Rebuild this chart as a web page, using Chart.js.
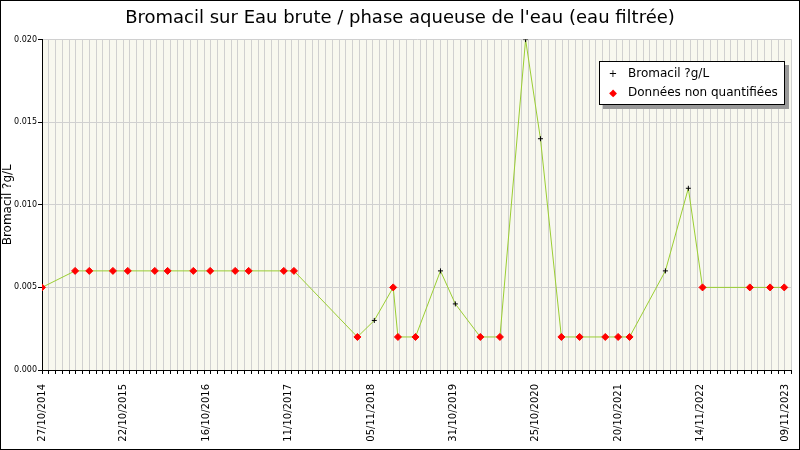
<!DOCTYPE html>
<html><head><meta charset="utf-8">
<script src="https://cdn.jsdelivr.net/npm/chart.js@4"></script>
<style>
body{margin:0;background:#fff;font-family:"DejaVu Sans",sans-serif}
#wrap{position:relative;width:800px;height:450px;box-sizing:border-box;border:1px solid #000}
#leg{position:absolute;left:598px;top:60px;width:186px;height:44px;border:1px solid #000;background:#fff;box-shadow:4px 4px 0 #999;font-size:12px;line-height:19px;padding:2px 0 0 6px;box-sizing:border-box;white-space:nowrap}
#leg span.m{display:inline-block;width:14px;text-align:center;margin-right:8px;font-size:10px}
</style></head><body>
<div id="wrap"><canvas id="c" width="798" height="448"></canvas>
<div id="leg"><div><span class="m" style="color:#000">+</span>Bromacil ?g/L</div><div><span class="m" style="color:#f00">◆</span>Données non quantifiées</div></div></div>
<script>
const title = "Bromacil sur Eau brute / phase aqueuse de l'eau (eau filtrée)";
const yTitle = "Bromacil ?g/L";
// x in months since 27/10/2014
const xMonths = [0,4.9,7.0,10.5,12.7,16.7,18.6,22.4,24.9,28.6,30.6,35.8,37.3,46.7,49.2,52.0,52.7,55.3,59.0,61.2,64.9,67.8,71.6,73.8,76.9,79.6,83.4,85.3,87.0,92.3,95.7,97.8,104.8,107.8,109.9];
const values = [0.005,0.006,0.006,0.006,0.006,0.006,0.006,0.006,0.006,0.006,0.006,0.006,0.006,0.002,0.003,0.005,0.002,0.002,0.006,0.004,0.002,0.002,0.020,0.014,0.002,0.002,0.002,0.002,0.002,0.006,0.011,0.005,0.005,0.005,0.005];
const quantified = [0,0,0,0,0,0,0,0,0,0,0,0,0,0,1,0,0,0,1,1,0,0,1,1,0,0,0,0,0,1,1,0,0,0,0];
const tickLabels = ["27/10/2014","22/10/2015","16/10/2016","11/10/2017","05/11/2018","31/10/2019","25/10/2020","20/10/2021","14/11/2022","09/11/2023"];
const tickPos = [0,12.1,24.3,36.5,48.7,60.9,73.1,85.3,97.5,110];

const bg = {id:'bg',beforeDraw(c){const a=c.chartArea,x=c.ctx;x.save();x.fillStyle='#f8f8ef';x.fillRect(a.left,a.top,a.right-a.left,a.bottom-a.top);x.restore();}};
new Chart(document.getElementById('c'),{
 type:'line',
 data:{datasets:[{data:xMonths.map((m,i)=>({x:m,y:values[i]})),borderColor:'#9acd32',borderWidth:1,tension:0,
   pointStyle:quantified.map(q=>q?'cross':'rectRot'),
   pointRadius:quantified.map(q=>q?2.5:3.5),
   pointBorderColor:quantified.map(q=>q?'#000':'#f00'),
   pointBackgroundColor:quantified.map(q=>q?'#000':'#f00'),
   pointBorderWidth:1}]},
 options:{responsive:false,animation:false,
  layout:{padding:{right:0,top:0,left:0,bottom:0}},
  plugins:{legend:{display:false},tooltip:{enabled:false},
   title:{display:true,text:title,color:'#000',font:{family:'DejaVu Sans',size:18,weight:'normal'},padding:{top:7,bottom:10}}},
  scales:{
   x:{type:'linear',min:0,max:111,
     afterBuildTicks(s){s.ticks=[];for(let i=0;i<=111;i++)s.ticks.push({value:i});},
     afterFit(s){s.height=4;},
     grid:{color:'#d0d0d0',drawTicks:true,tickLength:4,tickColor:'#000'},
     border:{color:'#000'},
     ticks:{display:false}},
   x2:{type:'linear',position:'bottom',min:0,max:111,
     afterBuildTicks(s){s.ticks=tickPos.map(v=>({value:v}));},
     afterFit(s){s.height=75;},
     grid:{display:false},border:{display:false},
     ticks:{autoSkip:false,maxRotation:90,minRotation:90,color:'#000',font:{family:'DejaVu Sans',size:10},padding:2,
       callback:(v,i)=>tickLabels[i]}},
   y:{min:0,max:0.02,
     afterBuildTicks(s){s.ticks=[0,0.005,0.01,0.015,0.02].map(v=>({value:v}));},
     afterFit(s){s.width=41;},
     grid:{color:'#d0d0d0',tickColor:'#000',tickLength:4},border:{color:'#000'},
     title:{display:true,text:yTitle,color:'#000',font:{family:'DejaVu Sans',size:12},padding:{top:0,bottom:0}},
     ticks:{color:'#000',font:{family:'DejaVu Sans',size:8},padding:1,callback:v=>v.toFixed(3)}}
  }},
 plugins:[bg]
});
</script></body></html>
